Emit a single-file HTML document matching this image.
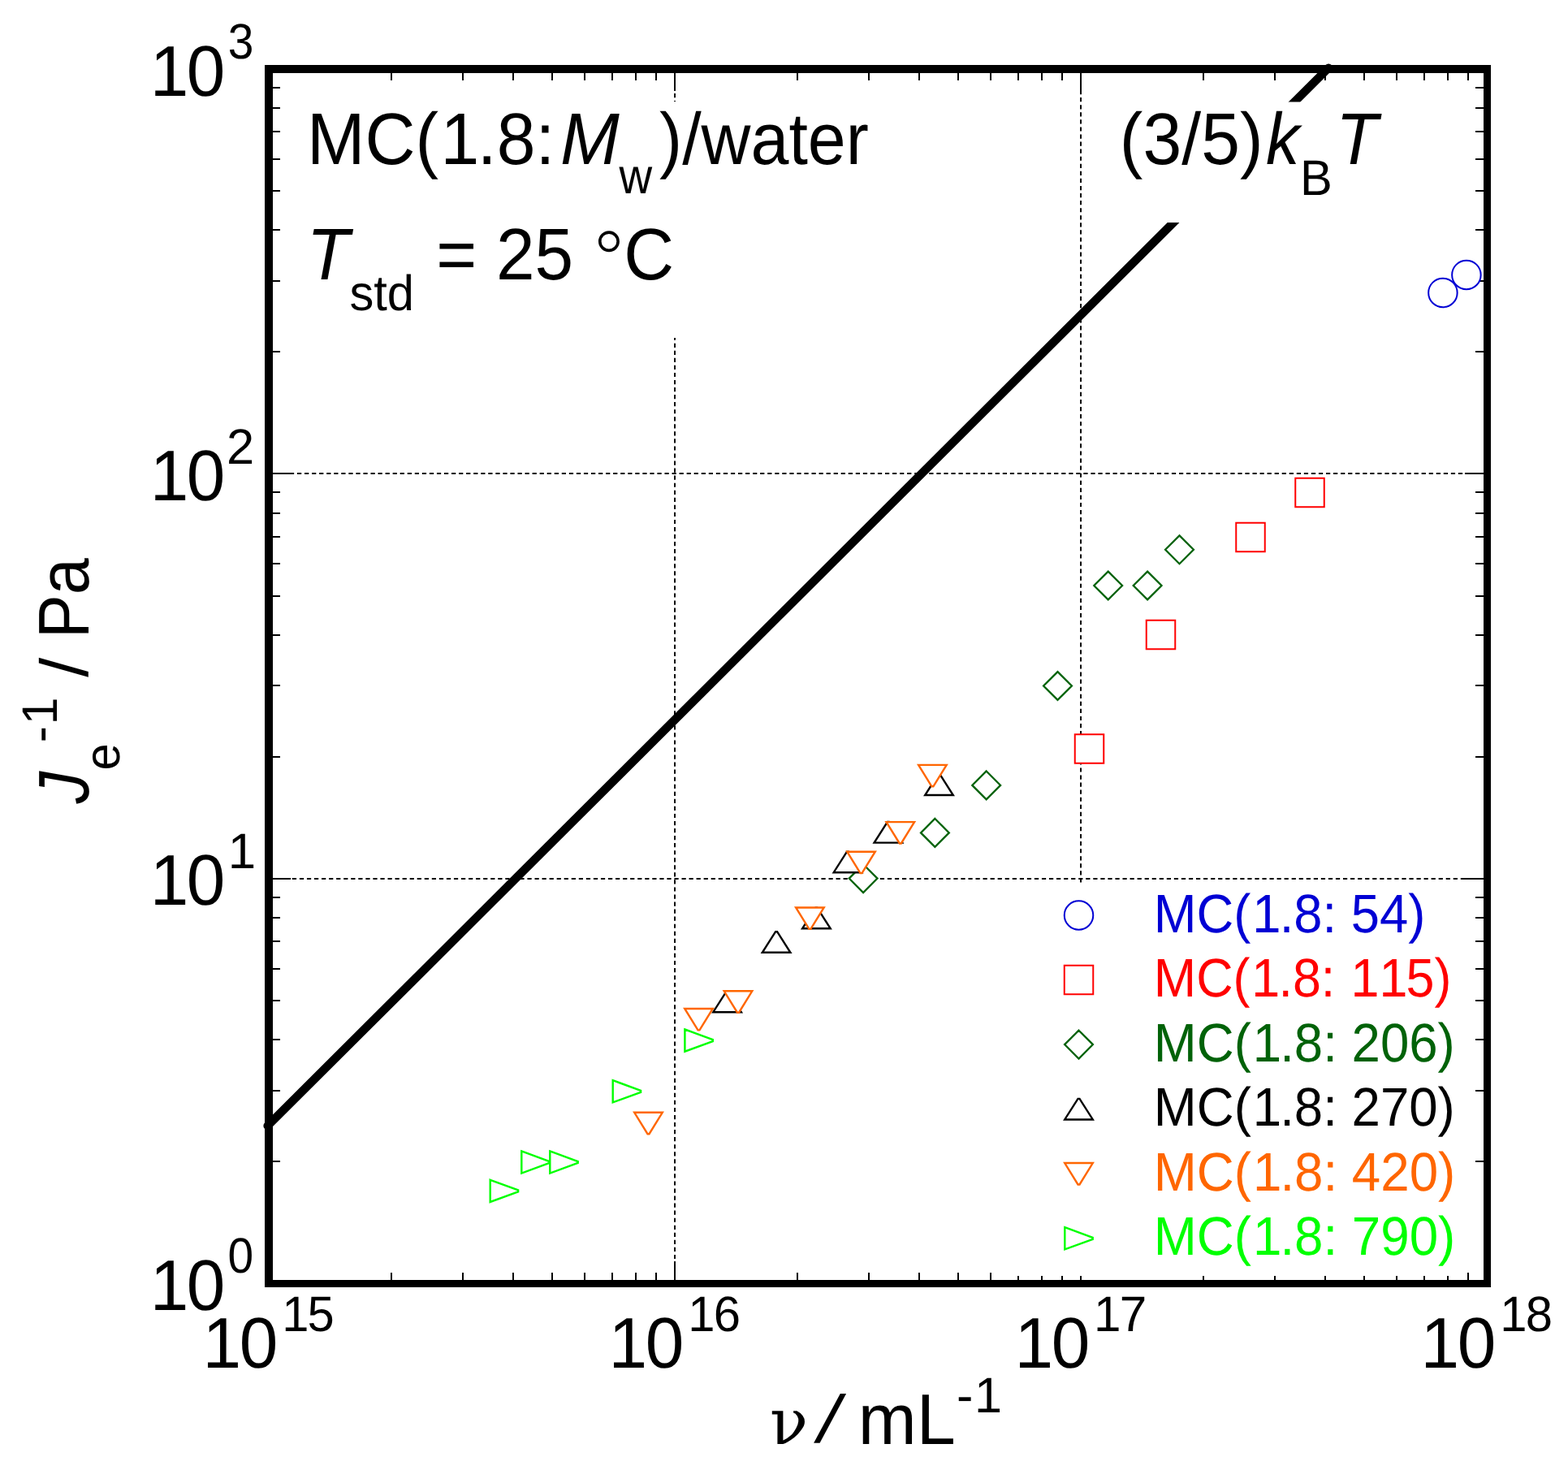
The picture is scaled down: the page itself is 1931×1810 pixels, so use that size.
<!DOCTYPE html>
<html><head><meta charset="utf-8"><title>plot</title>
<style>html,body{margin:0;padding:0;background:#fff;width:1931px;height:1810px;overflow:hidden}text{font-kerning:none}</style>
</head><body>
<svg width="1931" height="1810" viewBox="0 0 1931 1810" style="display:block;font-kerning:none;text-rendering:geometricPrecision">
<rect width="100%" height="100%" fill="#fff"/>
<line x1="338.85" y1="583.00" x2="1827.00" y2="583.00" stroke="#000" stroke-width="2.00" stroke-dasharray="5.2 3.85"/>
<line x1="341.75" y1="1082.00" x2="1827.00" y2="1082.00" stroke="#000" stroke-width="2.00" stroke-dasharray="5.2 3.85"/>
<line x1="831.00" y1="96.90" x2="831.00" y2="1576.00" stroke="#000" stroke-width="2.00" stroke-dasharray="5.2 3.85"/>
<line x1="1331.00" y1="92.90" x2="1331.00" y2="1576.00" stroke="#000" stroke-width="2.00" stroke-dasharray="5.2 3.869"/>
<line x1="482.00" y1="90.00" x2="482.00" y2="99.00" stroke="#000" stroke-width="2.00"/>
<line x1="482.00" y1="1567.00" x2="482.00" y2="1576.00" stroke="#000" stroke-width="2.00"/>
<line x1="570.00" y1="90.00" x2="570.00" y2="99.00" stroke="#000" stroke-width="2.00"/>
<line x1="570.00" y1="1567.00" x2="570.00" y2="1576.00" stroke="#000" stroke-width="2.00"/>
<line x1="632.00" y1="90.00" x2="632.00" y2="99.00" stroke="#000" stroke-width="2.00"/>
<line x1="632.00" y1="1567.00" x2="632.00" y2="1576.00" stroke="#000" stroke-width="2.00"/>
<line x1="680.00" y1="90.00" x2="680.00" y2="99.00" stroke="#000" stroke-width="2.00"/>
<line x1="680.00" y1="1567.00" x2="680.00" y2="1576.00" stroke="#000" stroke-width="2.00"/>
<line x1="720.00" y1="90.00" x2="720.00" y2="99.00" stroke="#000" stroke-width="2.00"/>
<line x1="720.00" y1="1567.00" x2="720.00" y2="1576.00" stroke="#000" stroke-width="2.00"/>
<line x1="754.00" y1="90.00" x2="754.00" y2="99.00" stroke="#000" stroke-width="2.00"/>
<line x1="754.00" y1="1567.00" x2="754.00" y2="1576.00" stroke="#000" stroke-width="2.00"/>
<line x1="783.00" y1="90.00" x2="783.00" y2="99.00" stroke="#000" stroke-width="2.00"/>
<line x1="783.00" y1="1567.00" x2="783.00" y2="1576.00" stroke="#000" stroke-width="2.00"/>
<line x1="808.00" y1="90.00" x2="808.00" y2="99.00" stroke="#000" stroke-width="2.00"/>
<line x1="808.00" y1="1567.00" x2="808.00" y2="1576.00" stroke="#000" stroke-width="2.00"/>
<line x1="831.00" y1="90.00" x2="831.00" y2="112.00" stroke="#000" stroke-width="2.00"/>
<line x1="831.00" y1="1553.00" x2="831.00" y2="1576.00" stroke="#000" stroke-width="2.00"/>
<line x1="982.00" y1="90.00" x2="982.00" y2="99.00" stroke="#000" stroke-width="2.00"/>
<line x1="982.00" y1="1567.00" x2="982.00" y2="1576.00" stroke="#000" stroke-width="2.00"/>
<line x1="1070.00" y1="90.00" x2="1070.00" y2="99.00" stroke="#000" stroke-width="2.00"/>
<line x1="1070.00" y1="1567.00" x2="1070.00" y2="1576.00" stroke="#000" stroke-width="2.00"/>
<line x1="1132.00" y1="90.00" x2="1132.00" y2="99.00" stroke="#000" stroke-width="2.00"/>
<line x1="1132.00" y1="1567.00" x2="1132.00" y2="1576.00" stroke="#000" stroke-width="2.00"/>
<line x1="1180.00" y1="90.00" x2="1180.00" y2="99.00" stroke="#000" stroke-width="2.00"/>
<line x1="1180.00" y1="1567.00" x2="1180.00" y2="1576.00" stroke="#000" stroke-width="2.00"/>
<line x1="1220.00" y1="90.00" x2="1220.00" y2="99.00" stroke="#000" stroke-width="2.00"/>
<line x1="1220.00" y1="1567.00" x2="1220.00" y2="1576.00" stroke="#000" stroke-width="2.00"/>
<line x1="1254.00" y1="90.00" x2="1254.00" y2="99.00" stroke="#000" stroke-width="2.00"/>
<line x1="1254.00" y1="1567.00" x2="1254.00" y2="1576.00" stroke="#000" stroke-width="2.00"/>
<line x1="1283.00" y1="90.00" x2="1283.00" y2="99.00" stroke="#000" stroke-width="2.00"/>
<line x1="1283.00" y1="1567.00" x2="1283.00" y2="1576.00" stroke="#000" stroke-width="2.00"/>
<line x1="1308.00" y1="90.00" x2="1308.00" y2="99.00" stroke="#000" stroke-width="2.00"/>
<line x1="1308.00" y1="1567.00" x2="1308.00" y2="1576.00" stroke="#000" stroke-width="2.00"/>
<line x1="1331.00" y1="90.00" x2="1331.00" y2="112.00" stroke="#000" stroke-width="2.00"/>
<line x1="1331.00" y1="1553.00" x2="1331.00" y2="1576.00" stroke="#000" stroke-width="2.00"/>
<line x1="1482.00" y1="90.00" x2="1482.00" y2="99.00" stroke="#000" stroke-width="2.00"/>
<line x1="1482.00" y1="1567.00" x2="1482.00" y2="1576.00" stroke="#000" stroke-width="2.00"/>
<line x1="1570.00" y1="90.00" x2="1570.00" y2="99.00" stroke="#000" stroke-width="2.00"/>
<line x1="1570.00" y1="1567.00" x2="1570.00" y2="1576.00" stroke="#000" stroke-width="2.00"/>
<line x1="1632.00" y1="90.00" x2="1632.00" y2="99.00" stroke="#000" stroke-width="2.00"/>
<line x1="1632.00" y1="1567.00" x2="1632.00" y2="1576.00" stroke="#000" stroke-width="2.00"/>
<line x1="1680.00" y1="90.00" x2="1680.00" y2="99.00" stroke="#000" stroke-width="2.00"/>
<line x1="1680.00" y1="1567.00" x2="1680.00" y2="1576.00" stroke="#000" stroke-width="2.00"/>
<line x1="1720.00" y1="90.00" x2="1720.00" y2="99.00" stroke="#000" stroke-width="2.00"/>
<line x1="1720.00" y1="1567.00" x2="1720.00" y2="1576.00" stroke="#000" stroke-width="2.00"/>
<line x1="1754.00" y1="90.00" x2="1754.00" y2="99.00" stroke="#000" stroke-width="2.00"/>
<line x1="1754.00" y1="1567.00" x2="1754.00" y2="1576.00" stroke="#000" stroke-width="2.00"/>
<line x1="1783.00" y1="90.00" x2="1783.00" y2="99.00" stroke="#000" stroke-width="2.00"/>
<line x1="1783.00" y1="1567.00" x2="1783.00" y2="1576.00" stroke="#000" stroke-width="2.00"/>
<line x1="1808.00" y1="90.00" x2="1808.00" y2="99.00" stroke="#000" stroke-width="2.00"/>
<line x1="1808.00" y1="1567.00" x2="1808.00" y2="1576.00" stroke="#000" stroke-width="2.00"/>
<line x1="336.00" y1="1430.00" x2="345.00" y2="1430.00" stroke="#000" stroke-width="2.00"/>
<line x1="1817.00" y1="1430.00" x2="1827.00" y2="1430.00" stroke="#000" stroke-width="2.00"/>
<line x1="336.00" y1="1343.00" x2="345.00" y2="1343.00" stroke="#000" stroke-width="2.00"/>
<line x1="1817.00" y1="1343.00" x2="1827.00" y2="1343.00" stroke="#000" stroke-width="2.00"/>
<line x1="336.00" y1="1280.00" x2="345.00" y2="1280.00" stroke="#000" stroke-width="2.00"/>
<line x1="1817.00" y1="1280.00" x2="1827.00" y2="1280.00" stroke="#000" stroke-width="2.00"/>
<line x1="336.00" y1="1232.00" x2="345.00" y2="1232.00" stroke="#000" stroke-width="2.00"/>
<line x1="1817.00" y1="1232.00" x2="1827.00" y2="1232.00" stroke="#000" stroke-width="2.00"/>
<line x1="336.00" y1="1193.00" x2="345.00" y2="1193.00" stroke="#000" stroke-width="2.00"/>
<line x1="1817.00" y1="1193.00" x2="1827.00" y2="1193.00" stroke="#000" stroke-width="2.00"/>
<line x1="336.00" y1="1159.00" x2="345.00" y2="1159.00" stroke="#000" stroke-width="2.00"/>
<line x1="1817.00" y1="1159.00" x2="1827.00" y2="1159.00" stroke="#000" stroke-width="2.00"/>
<line x1="336.00" y1="1130.00" x2="345.00" y2="1130.00" stroke="#000" stroke-width="2.00"/>
<line x1="1817.00" y1="1130.00" x2="1827.00" y2="1130.00" stroke="#000" stroke-width="2.00"/>
<line x1="336.00" y1="1105.00" x2="345.00" y2="1105.00" stroke="#000" stroke-width="2.00"/>
<line x1="1817.00" y1="1105.00" x2="1827.00" y2="1105.00" stroke="#000" stroke-width="2.00"/>
<line x1="336.00" y1="1082.00" x2="358.00" y2="1082.00" stroke="#000" stroke-width="2.00"/>
<line x1="1804.00" y1="1082.00" x2="1827.00" y2="1082.00" stroke="#000" stroke-width="2.00"/>
<line x1="336.00" y1="932.00" x2="345.00" y2="932.00" stroke="#000" stroke-width="2.00"/>
<line x1="1817.00" y1="932.00" x2="1827.00" y2="932.00" stroke="#000" stroke-width="2.00"/>
<line x1="336.00" y1="844.00" x2="345.00" y2="844.00" stroke="#000" stroke-width="2.00"/>
<line x1="1817.00" y1="844.00" x2="1827.00" y2="844.00" stroke="#000" stroke-width="2.00"/>
<line x1="336.00" y1="782.00" x2="345.00" y2="782.00" stroke="#000" stroke-width="2.00"/>
<line x1="1817.00" y1="782.00" x2="1827.00" y2="782.00" stroke="#000" stroke-width="2.00"/>
<line x1="336.00" y1="734.00" x2="345.00" y2="734.00" stroke="#000" stroke-width="2.00"/>
<line x1="1817.00" y1="734.00" x2="1827.00" y2="734.00" stroke="#000" stroke-width="2.00"/>
<line x1="336.00" y1="694.00" x2="345.00" y2="694.00" stroke="#000" stroke-width="2.00"/>
<line x1="1817.00" y1="694.00" x2="1827.00" y2="694.00" stroke="#000" stroke-width="2.00"/>
<line x1="336.00" y1="661.00" x2="345.00" y2="661.00" stroke="#000" stroke-width="2.00"/>
<line x1="1817.00" y1="661.00" x2="1827.00" y2="661.00" stroke="#000" stroke-width="2.00"/>
<line x1="336.00" y1="632.00" x2="345.00" y2="632.00" stroke="#000" stroke-width="2.00"/>
<line x1="1817.00" y1="632.00" x2="1827.00" y2="632.00" stroke="#000" stroke-width="2.00"/>
<line x1="336.00" y1="606.00" x2="345.00" y2="606.00" stroke="#000" stroke-width="2.00"/>
<line x1="1817.00" y1="606.00" x2="1827.00" y2="606.00" stroke="#000" stroke-width="2.00"/>
<line x1="336.00" y1="583.00" x2="358.00" y2="583.00" stroke="#000" stroke-width="2.00"/>
<line x1="1804.00" y1="583.00" x2="1827.00" y2="583.00" stroke="#000" stroke-width="2.00"/>
<line x1="336.00" y1="433.00" x2="345.00" y2="433.00" stroke="#000" stroke-width="2.00"/>
<line x1="1817.00" y1="433.00" x2="1827.00" y2="433.00" stroke="#000" stroke-width="2.00"/>
<line x1="336.00" y1="346.00" x2="345.00" y2="346.00" stroke="#000" stroke-width="2.00"/>
<line x1="1817.00" y1="346.00" x2="1827.00" y2="346.00" stroke="#000" stroke-width="2.00"/>
<line x1="336.00" y1="283.00" x2="345.00" y2="283.00" stroke="#000" stroke-width="2.00"/>
<line x1="1817.00" y1="283.00" x2="1827.00" y2="283.00" stroke="#000" stroke-width="2.00"/>
<line x1="336.00" y1="235.00" x2="345.00" y2="235.00" stroke="#000" stroke-width="2.00"/>
<line x1="1817.00" y1="235.00" x2="1827.00" y2="235.00" stroke="#000" stroke-width="2.00"/>
<line x1="336.00" y1="196.00" x2="345.00" y2="196.00" stroke="#000" stroke-width="2.00"/>
<line x1="1817.00" y1="196.00" x2="1827.00" y2="196.00" stroke="#000" stroke-width="2.00"/>
<line x1="336.00" y1="162.00" x2="345.00" y2="162.00" stroke="#000" stroke-width="2.00"/>
<line x1="1817.00" y1="162.00" x2="1827.00" y2="162.00" stroke="#000" stroke-width="2.00"/>
<line x1="336.00" y1="133.00" x2="345.00" y2="133.00" stroke="#000" stroke-width="2.00"/>
<line x1="1817.00" y1="133.00" x2="1827.00" y2="133.00" stroke="#000" stroke-width="2.00"/>
<line x1="336.00" y1="108.00" x2="345.00" y2="108.00" stroke="#000" stroke-width="2.00"/>
<line x1="1817.00" y1="108.00" x2="1827.00" y2="108.00" stroke="#000" stroke-width="2.00"/>
<line x1="329.58" y1="1386.17" x2="1636.08" y2="83.59" stroke="#000" stroke-width="10.4" stroke-linecap="round"/>
<circle cx="1776.90" cy="360.40" r="17.75" fill="#fff" stroke="#0000d4" stroke-width="2"/>
<circle cx="1805.90" cy="338.40" r="17.75" fill="#fff" stroke="#0000d4" stroke-width="2"/>
<polygon points="1595.25,588.65 1630.75,588.65 1630.75,624.15 1595.25,624.15" fill="#fff" stroke="#ff0000" stroke-width="2.0" stroke-linejoin="miter" stroke-miterlimit="3"/>
<polygon points="1522.25,643.65 1557.75,643.65 1557.75,679.15 1522.25,679.15" fill="#fff" stroke="#ff0000" stroke-width="2.0" stroke-linejoin="miter" stroke-miterlimit="3"/>
<polygon points="1411.75,763.75 1447.25,763.75 1447.25,799.25 1411.75,799.25" fill="#fff" stroke="#ff0000" stroke-width="2.0" stroke-linejoin="miter" stroke-miterlimit="3"/>
<polygon points="1323.75,904.15 1359.25,904.15 1359.25,939.65 1323.75,939.65" fill="#fff" stroke="#ff0000" stroke-width="2.0" stroke-linejoin="miter" stroke-miterlimit="3"/>
<polygon points="1452.50,659.40 1469.90,676.80 1452.50,694.20 1435.10,676.80" fill="#fff" stroke="#006208" stroke-width="2.3" stroke-linejoin="miter" stroke-miterlimit="3"/>
<polygon points="1413.10,703.60 1430.50,721.00 1413.10,738.40 1395.70,721.00" fill="#fff" stroke="#006208" stroke-width="2.3" stroke-linejoin="miter" stroke-miterlimit="3"/>
<polygon points="1364.70,703.60 1382.10,721.00 1364.70,738.40 1347.30,721.00" fill="#fff" stroke="#006208" stroke-width="2.3" stroke-linejoin="miter" stroke-miterlimit="3"/>
<polygon points="1302.50,827.10 1319.90,844.50 1302.50,861.90 1285.10,844.50" fill="#fff" stroke="#006208" stroke-width="2.3" stroke-linejoin="miter" stroke-miterlimit="3"/>
<polygon points="1214.70,949.50 1232.10,966.90 1214.70,984.30 1197.30,966.90" fill="#fff" stroke="#006208" stroke-width="2.3" stroke-linejoin="miter" stroke-miterlimit="3"/>
<polygon points="1151.40,1008.00 1168.80,1025.40 1151.40,1042.80 1134.00,1025.40" fill="#fff" stroke="#006208" stroke-width="2.3" stroke-linejoin="miter" stroke-miterlimit="3"/>
<polygon points="1063.10,1064.20 1080.50,1081.60 1063.10,1099.00 1045.70,1081.60" fill="#fff" stroke="#006208" stroke-width="2.3" stroke-linejoin="miter" stroke-miterlimit="3"/>
<polygon points="1155.50,953.40 1157.50,953.40 1173.80,979.00 1139.20,979.00" fill="#fff" stroke="#000000" stroke-width="2.4" stroke-linejoin="miter" stroke-miterlimit="3"/>
<polygon points="1092.90,1012.00 1094.90,1012.00 1111.20,1037.60 1076.60,1037.60" fill="#fff" stroke="#000000" stroke-width="2.4" stroke-linejoin="miter" stroke-miterlimit="3"/>
<polygon points="1043.00,1048.60 1045.00,1048.60 1061.30,1074.20 1026.70,1074.20" fill="#fff" stroke="#000000" stroke-width="2.4" stroke-linejoin="miter" stroke-miterlimit="3"/>
<polygon points="1004.40,1117.70 1006.40,1117.70 1022.70,1143.30 988.10,1143.30" fill="#fff" stroke="#000000" stroke-width="2.4" stroke-linejoin="miter" stroke-miterlimit="3"/>
<polygon points="955.10,1147.20 957.10,1147.20 973.40,1172.80 938.80,1172.80" fill="#fff" stroke="#000000" stroke-width="2.4" stroke-linejoin="miter" stroke-miterlimit="3"/>
<polygon points="894.60,1220.60 896.60,1220.60 912.90,1246.20 878.30,1246.20" fill="#fff" stroke="#000000" stroke-width="2.4" stroke-linejoin="miter" stroke-miterlimit="3"/>
<polygon points="1131.10,941.90 1165.70,941.90 1149.40,968.30 1147.40,968.30" fill="#fff" stroke="#ff6600" stroke-width="2.4" stroke-linejoin="miter" stroke-miterlimit="3"/>
<polygon points="1091.50,1012.10 1126.10,1012.10 1109.80,1038.50 1107.80,1038.50" fill="#fff" stroke="#ff6600" stroke-width="2.4" stroke-linejoin="miter" stroke-miterlimit="3"/>
<polygon points="1043.20,1048.70 1077.80,1048.70 1061.50,1075.10 1059.50,1075.10" fill="#fff" stroke="#ff6600" stroke-width="2.4" stroke-linejoin="miter" stroke-miterlimit="3"/>
<polygon points="980.10,1117.50 1014.70,1117.50 998.40,1143.90 996.40,1143.90" fill="#fff" stroke="#ff6600" stroke-width="2.4" stroke-linejoin="miter" stroke-miterlimit="3"/>
<polygon points="891.70,1220.30 926.30,1220.30 910.00,1246.70 908.00,1246.70" fill="#fff" stroke="#ff6600" stroke-width="2.4" stroke-linejoin="miter" stroke-miterlimit="3"/>
<polygon points="843.20,1242.00 877.80,1242.00 861.50,1268.40 859.50,1268.40" fill="#fff" stroke="#ff6600" stroke-width="2.4" stroke-linejoin="miter" stroke-miterlimit="3"/>
<polygon points="781.20,1369.80 815.80,1369.80 799.50,1396.20 797.50,1396.20" fill="#fff" stroke="#ff6600" stroke-width="2.4" stroke-linejoin="miter" stroke-miterlimit="3"/>
<polygon points="843.40,1267.50 877.80,1280.10 877.80,1282.10 843.40,1294.70" fill="#fff" stroke="#00ff00" stroke-width="2.4" stroke-linejoin="miter" stroke-miterlimit="3"/>
<polygon points="754.70,1330.20 789.10,1342.80 789.10,1344.80 754.70,1357.40" fill="#fff" stroke="#00ff00" stroke-width="2.4" stroke-linejoin="miter" stroke-miterlimit="3"/>
<polygon points="677.30,1417.40 711.70,1430.00 711.70,1432.00 677.30,1444.60" fill="#fff" stroke="#00ff00" stroke-width="2.4" stroke-linejoin="miter" stroke-miterlimit="3"/>
<polygon points="642.30,1417.40 676.70,1430.00 676.70,1432.00 642.30,1444.60" fill="#fff" stroke="#00ff00" stroke-width="2.4" stroke-linejoin="miter" stroke-miterlimit="3"/>
<polygon points="603.70,1452.80 638.10,1465.40 638.10,1467.40 603.70,1480.00" fill="#fff" stroke="#00ff00" stroke-width="2.4" stroke-linejoin="miter" stroke-miterlimit="3"/>
<rect x="375.00" y="125.00" width="703.00" height="149.00" fill="#fff"/>
<rect x="375.00" y="267.00" width="465.00" height="149.00" fill="#fff"/>
<rect x="1375.00" y="125.50" width="337.00" height="148.50" fill="#fff"/>
<rect x="1240.00" y="1087.00" width="556.00" height="484.00" fill="#fff"/>
<text transform="translate(377.96 202.00) scale(0.9536 1)" font-size="90.02" fill="#000" style="font-family:'Liberation Sans', Arial, sans-serif;font-style:normal" dx="0.00 0.00 0.00 2.70 -2.70 0.00 0.00">MC(1.8:</text>
<text transform="translate(690.11 202.00) scale(0.9707 1)" font-size="90.02" fill="#000" style="font-family:'Liberation Sans', Arial, sans-serif;font-style:italic">M</text>
<text transform="translate(762.48 238.10) scale(0.9174 1)" font-size="61.40" fill="#000" style="font-family:'Liberation Sans', Arial, sans-serif;font-style:normal">w</text>
<text transform="translate(812.11 202.00) scale(0.9367 1)" font-size="90.02" fill="#000" style="font-family:'Liberation Sans', Arial, sans-serif;font-style:normal">)/water</text>
<text transform="translate(377.70 344.00) scale(0.9518 1)" font-size="90.02" fill="#000" style="font-family:'Liberation Sans', Arial, sans-serif;font-style:italic">T</text>
<text transform="translate(430.44 381.70) scale(0.9719 1)" font-size="61.40" fill="#000" style="font-family:'Liberation Sans', Arial, sans-serif;font-style:normal">std</text>
<text transform="translate(537.32 344.00) scale(0.9502 1)" font-size="90.02" fill="#000" style="font-family:'Liberation Sans', Arial, sans-serif;font-style:normal">= 25</text>
<text transform="translate(725.80 353.75) scale(0.9983 1)" font-size="96.98" fill="#000" style="font-family:'DejaVu Sans', sans-serif;font-style:normal;font-weight:200">°</text>
<text transform="translate(768.35 344.00) scale(0.9507 1)" font-size="90.02" fill="#000" style="font-family:'Liberation Sans', Arial, sans-serif;font-style:normal">C</text>
<text transform="translate(1378.87 202.00) scale(0.9544 1)" font-size="90.02" fill="#000" style="font-family:'Liberation Sans', Arial, sans-serif;font-style:normal">(3/5)</text>
<text transform="translate(1559.03 202.00) scale(0.9197 1)" font-size="90.02" fill="#000" style="font-family:'Liberation Sans', Arial, sans-serif;font-style:italic">k</text>
<text transform="translate(1601.10 239.60) scale(0.9731 1)" font-size="61.40" fill="#000" style="font-family:'Liberation Sans', Arial, sans-serif;font-style:normal">B</text>
<text transform="translate(1645.14 202.00) scale(0.9345 1)" font-size="90.02" fill="#000" style="font-family:'Liberation Sans', Arial, sans-serif;font-style:italic">T</text>
<circle cx="1328.50" cy="1127.00" r="17.75" fill="#fff" stroke="#0000d4" stroke-width="2"/>
<text transform="translate(1420.80 1148.00) scale(0.9484 1)" font-size="66.81" fill="#0000d4" style="font-family:'Liberation Sans', Arial, sans-serif;font-style:normal" dx="0.00 0.00 0.00 2.00 -2.00 0.00 0.00 0.00 0.00 0.00 0.00">MC(1.8: 54)</text>
<polygon points="1310.75,1188.81 1346.25,1188.81 1346.25,1224.31 1310.75,1224.31" fill="#fff" stroke="#ff0000" stroke-width="2.0" stroke-linejoin="miter" stroke-miterlimit="3"/>
<text transform="translate(1420.85 1227.40) scale(0.9404 1)" font-size="66.81" fill="#ff0000" style="font-family:'Liberation Sans', Arial, sans-serif;font-style:normal" dx="0.00 0.00 0.00 2.00 -2.00 0.00 0.00 0.00 2.00 0.00 -2.00 0.00">MC(1.8: 115)</text>
<polygon points="1328.50,1268.72 1345.90,1286.12 1328.50,1303.52 1311.10,1286.12" fill="#fff" stroke="#006208" stroke-width="2.3" stroke-linejoin="miter" stroke-miterlimit="3"/>
<text transform="translate(1420.79 1306.80) scale(0.9515 1)" font-size="66.81" fill="#006208" style="font-family:'Liberation Sans', Arial, sans-serif;font-style:normal" dx="0.00 0.00 0.00 2.00 -2.00 0.00 0.00 0.00 0.00 0.00 0.00 0.00">MC(1.8: 206)</text>
<polygon points="1327.50,1352.88 1329.50,1352.88 1345.80,1378.48 1311.20,1378.48" fill="#fff" stroke="#000000" stroke-width="2.4" stroke-linejoin="miter" stroke-miterlimit="3"/>
<text transform="translate(1420.79 1386.20) scale(0.9515 1)" font-size="66.81" fill="#000000" style="font-family:'Liberation Sans', Arial, sans-serif;font-style:normal" dx="0.00 0.00 0.00 2.00 -2.00 0.00 0.00 0.00 0.00 0.00 0.00 0.00">MC(1.8: 270)</text>
<polygon points="1311.20,1432.04 1345.80,1432.04 1329.50,1458.44 1327.50,1458.44" fill="#fff" stroke="#ff6600" stroke-width="2.4" stroke-linejoin="miter" stroke-miterlimit="3"/>
<text transform="translate(1420.78 1465.60) scale(0.9528 1)" font-size="66.81" fill="#ff6600" style="font-family:'Liberation Sans', Arial, sans-serif;font-style:normal" dx="0.00 0.00 0.00 2.00 -2.00 0.00 0.00 0.00 0.00 0.00 0.00 0.00">MC(1.8: 420)</text>
<polygon points="1311.30,1511.20 1345.70,1523.80 1345.70,1525.80 1311.30,1538.40" fill="#fff" stroke="#00ff00" stroke-width="2.4" stroke-linejoin="miter" stroke-miterlimit="3"/>
<text transform="translate(1420.78 1545.00) scale(0.9528 1)" font-size="66.81" fill="#00ff00" style="font-family:'Liberation Sans', Arial, sans-serif;font-style:normal" dx="0.00 0.00 0.00 2.00 -2.00 0.00 0.00 0.00 0.00 0.00 0.00 0.00">MC(1.8: 790)</text>
<text transform="translate(182.23 118.00) scale(0.9667 1)" font-size="88.46" fill="#000" style="font-family:'Liberation Sans', Arial, sans-serif;font-style:normal" dx="2.65 -2.65">10</text>
<text transform="translate(280.83 72.40) scale(0.9275 1)" font-size="61.40" fill="#000" style="font-family:'Liberation Sans', Arial, sans-serif;font-style:normal">3</text>
<text transform="translate(182.23 616.00) scale(0.9667 1)" font-size="88.46" fill="#000" style="font-family:'Liberation Sans', Arial, sans-serif;font-style:normal" dx="2.65 -2.65">10</text>
<text transform="translate(278.91 571.00) scale(1.0010 1)" font-size="61.40" fill="#000" style="font-family:'Liberation Sans', Arial, sans-serif;font-style:normal">2</text>
<text transform="translate(182.23 1113.70) scale(0.9667 1)" font-size="88.46" fill="#000" style="font-family:'Liberation Sans', Arial, sans-serif;font-style:normal" dx="2.65 -2.65">10</text>
<text transform="translate(279.00 1069.00) scale(1.0079 1)" font-size="61.40" fill="#000" style="font-family:'Liberation Sans', Arial, sans-serif;font-style:normal" dx="1.84">1</text>
<text transform="translate(182.23 1612.80) scale(0.9667 1)" font-size="88.46" fill="#000" style="font-family:'Liberation Sans', Arial, sans-serif;font-style:normal" dx="2.65 -2.65">10</text>
<text transform="translate(280.58 1567.20) scale(0.9267 1)" font-size="61.40" fill="#000" style="font-family:'Liberation Sans', Arial, sans-serif;font-style:normal">0</text>
<text transform="translate(247.01 1684.00) scale(0.9679 1)" font-size="88.46" fill="#000" style="font-family:'Liberation Sans', Arial, sans-serif;font-style:normal" dx="2.65 -2.65">10</text>
<text transform="translate(345.37 1638.90) scale(0.9727 1)" font-size="61.40" fill="#000" style="font-family:'Liberation Sans', Arial, sans-serif;font-style:normal" dx="1.84 -1.84">15</text>
<text transform="translate(747.01 1684.00) scale(0.9679 1)" font-size="88.46" fill="#000" style="font-family:'Liberation Sans', Arial, sans-serif;font-style:normal" dx="2.65 -2.65">10</text>
<text transform="translate(845.36 1638.90) scale(0.9747 1)" font-size="61.40" fill="#000" style="font-family:'Liberation Sans', Arial, sans-serif;font-style:normal" dx="1.84 -1.84">16</text>
<text transform="translate(1247.01 1684.00) scale(0.9679 1)" font-size="88.46" fill="#000" style="font-family:'Liberation Sans', Arial, sans-serif;font-style:normal" dx="2.65 -2.65">10</text>
<text transform="translate(1345.31 1638.90) scale(0.9813 1)" font-size="61.40" fill="#000" style="font-family:'Liberation Sans', Arial, sans-serif;font-style:normal" dx="1.84 -1.84">17</text>
<text transform="translate(1747.01 1684.00) scale(0.9679 1)" font-size="88.46" fill="#000" style="font-family:'Liberation Sans', Arial, sans-serif;font-style:normal" dx="2.65 -2.65">10</text>
<text transform="translate(1845.36 1638.90) scale(0.9742 1)" font-size="61.40" fill="#000" style="font-family:'Liberation Sans', Arial, sans-serif;font-style:normal" dx="1.84 -1.84">18</text>
<text transform="translate(948.10 1777.70) scale(0.9877 1)" font-size="78.41" fill="#000" style="font-family:'DejaVu Serif', serif;font-style:normal">ν</text>
<text transform="translate(1007.39 1775.69) scale(1.1492 1)" font-size="82.79" fill="#000" style="font-family:'Liberation Sans', Arial, sans-serif;font-style:italic">/</text>
<text transform="translate(1056.86 1777.50) scale(0.9766 1)" font-size="88.46" fill="#000" style="font-family:'Liberation Sans', Arial, sans-serif;font-style:normal">mL</text>
<text transform="translate(1177.88 1738.90) scale(0.9966 1)" font-size="61.40" fill="#000" style="font-family:'Liberation Sans', Arial, sans-serif;font-style:normal" dx="0.00 1.84">-1</text>
<text transform="translate(109.00 989.41) rotate(-90) scale(0.8951 1)" font-size="88.46" fill="#000" style="font-family:'Liberation Sans', Arial, sans-serif;font-style:italic">J</text>
<text transform="translate(146.80 948.53) rotate(-90) scale(0.9718 1)" font-size="61.40" fill="#000" style="font-family:'Liberation Sans', Arial, sans-serif;font-style:normal">e</text>
<text transform="translate(69.90 914.29) rotate(-90) scale(0.9842 1)" font-size="61.40" fill="#000" style="font-family:'Liberation Sans', Arial, sans-serif;font-style:normal" dx="0.00 1.84">-1</text>
<text transform="translate(108.09 833.70) rotate(-90) scale(1.0400 1)" font-size="83.06" fill="#000" style="font-family:'Liberation Sans', Arial, sans-serif;font-style:normal">/</text>
<text transform="translate(109.00 786.24) rotate(-90) scale(0.9154 1)" font-size="88.46" fill="#000" style="font-family:'Liberation Sans', Arial, sans-serif;font-style:normal">Pa</text>
<rect x="326.00" y="80.00" width="10.00" height="1505.00" fill="#000"/>
<rect x="1827.00" y="80.00" width="9.00" height="1505.00" fill="#000"/>
<rect x="326.00" y="80.00" width="1510.00" height="10.00" fill="#000"/>
<rect x="326.00" y="1576.00" width="1510.00" height="9.00" fill="#000"/>
</svg>
</body></html>
